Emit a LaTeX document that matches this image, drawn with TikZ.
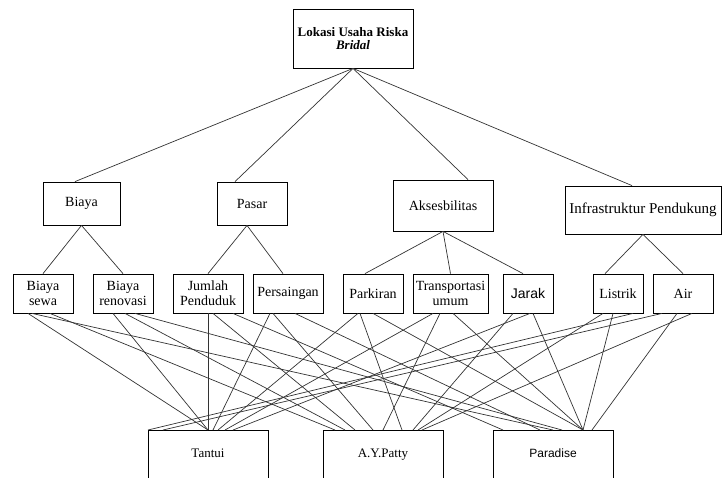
\documentclass[tikz,border=0pt]{standalone}
\usepackage{fontspec}
\setmainfont{Liberation Serif}
\newfontfamily\arialfont{Liberation Sans}
\begin{document}
\begin{tikzpicture}[x = 1pt, y = -1pt, % one unit = one pixel, y downwards
                semithick, % line style
                font = \fontsize{14}{15}\selectfont
            ]

            \tikzstyle{every node}=[draw = black, rectangle, inner sep = 2pt,
            align = center, line width = 0.8pt]
            \tikzstyle{crit}=[minimum height = 43pt]
            \tikzstyle{sub}=[minimum height = 39pt]
            \tikzstyle{alt}=[anchor = north, minimum width = 120pt,
            text height = 24pt, text depth = 30pt, inner ysep = 3pt,
            font = \fontsize{13}{15}\selectfont]
            \tikzstyle{link}=[color = black!80, line width = 0.7pt]

            \useasboundingbox (0,0) rectangle (722,477);

            % goal
            \node (goal) [minimum width = 120pt, minimum height = 59pt,
            font = \fontsize{13}{13}\selectfont\bfseries] at (353,38.5)
            {Lokasi Usaha Riska\\\textit{Bridal}};

            % criteria
            \node (biaya) [crit, minimum width = 77pt] at (81.5,203.5) {Biaya};
            \node (pasar) [crit, minimum width = 70pt] at (252,203.5) {Pasar};
            \node (akses) [minimum width = 100pt, minimum height = 51pt] at
            (443,205.5) {Aksesbilitas}; \node (infra) [minimum width = 156pt,
            minimum height = 48pt, font = \fontsize{15}{15}\selectfont] at
            (643,210) {Infrastruktur Pendukung};

            % sub criteria
            \node (sewa) [sub, minimum width = 60pt] at (43,293.5) {Biaya\\sewa};
            \node (renov) [sub, minimum width = 60pt] at (123,293.5) {Biaya\\renovasi};
            \node (jumlah) [sub, minimum width = 70pt] at (208,293.5) {Jumlah\\Penduduk};
            \node (saing) [sub, minimum width = 70pt] at (288,293.5) {Persaingan};
            \node (parkir) [sub, minimum width = 60pt] at (373,293.5) {Parkiran};
            \node (transport) [sub, minimum width = 75pt] at (450.5,293.5) {Transportasi\\umum};
            \node (jarak) [sub, minimum width = 50pt, font = \fontsize{14}{15}\arialfont]
            at (528,293.5) {Jarak};
            \node (listrik) [sub, minimum width = 50pt] at (618,293.5) {Listrik};
            \node (air) [sub, minimum width = 60pt] at (683,293.5) {Air};

            % alternatives
            \node (tantui) [alt] at (208,430) {Tantui};
            \node (patty) [alt] at (383,430) {A.Y.Patty};
            \node (paradise) [alt, font = \fontsize{12}{15}\arialfont] at (553,430) {Paradise};


            \path[link] (goal.south) edge ([xshift=-6.5]biaya.north); \path[link]
            (goal.south) edge ([xshift=-17]pasar.north); \path[link] (goal.south)
            edge ([xshift=25]akses.north); \path[link] (goal.south) edge
            ([xshift=-11]infra.north);

            \path[link] (biaya.south) edge (sewa.north); \path[link] (biaya.south)
            edge (renov.north); \path[link] ([xshift=-5]pasar.south) edge
            (jumlah.north); \path[link] ([xshift=-5]pasar.south) edge
            ([xshift=-5]saing.north); \path[link] (akses.south) edge
            ([xshift=-8]parkir.north); \path[link] (akses.south) edge
            (transport.north); \path[link] (akses.south) edge
            ([xshift=-5]jarak.north); \path[link] (infra.south) edge
            ([xshift=-13]listrik.north); \path[link] (infra.south) edge (air.north);

            % sub criteria to alternatives
            \path[link] ([xshift=-15]sewa.south) edge (tantui.north); \path[link]
            ([xshift=7]sewa.south) edge ([xshift=-48]patty.north); \path[link]
            ([xshift=-11]sewa.south) edge (paradise.north);
            \path[link] ([xshift=-10]renov.south) edge (tantui.north); \path[link]
            ([xshift=2]renov.south) edge ([xshift=-38]patty.north); \path[link]
            ([xshift=12]renov.south) edge ([xshift=9]paradise.north);
            \path[link] (jumlah.south) edge (tantui.north); \path[link]
            ([xshift=5]jumlah.south) edge ([xshift=-28]patty.north); \path[link]
            ([xshift=25]jumlah.south) edge ([xshift=-50]paradise.north);
            \path[link] ([xshift=-18]saing.south) edge ([xshift=5]tantui.north);
            \path[link] ([xshift=-15]saing.south) edge ([xshift=-10]patty.north);
            \path[link] ([xshift=7]saing.south) edge ([xshift=-13]paradise.north);
            \path[link] ([xshift=-15]parkir.south) edge ([xshift=10]tantui.north);
            \path[link] ([xshift=-13]parkir.south) edge ([xshift=19]patty.north);
            \path[link] (parkir.south) edge ([xshift=30]paradise.north);
            \path[link] ([xshift=-17.5]transport.south) edge ([xshift=17]tantui.north);
            \path[link] ([xshift=-10.5]transport.south) edge (patty.north);
            \path[link] ([xshift=2.5]transport.south) edge ([xshift=30]paradise.north);
            \path[link] ([xshift=2]jarak.south) edge ([xshift=25]tantui.north);
            \path[link] ([xshift=-15]jarak.south) edge ([xshift=30]patty.north);
            \path[link] ([xshift=5]jarak.south) edge ([xshift=30]paradise.north);
            \path[link] ([xshift=15]listrik.south) edge ([xshift=-60]tantui.north);
            \path[link] ([xshift=-15]listrik.south) edge ([xshift=35]patty.north);
            \path[link] ([xshift=-5]listrik.south) edge ([xshift=30]paradise.north);
            \path[link] ([xshift=-21]air.south) edge ([xshift=-45]tantui.north);
            \path[link] ([xshift=9]air.south) edge ([xshift=39]patty.north);
            \path[link] ([xshift=-6]air.south) edge ([xshift=39]paradise.north);
            \end{tikzpicture}
\end{document}
